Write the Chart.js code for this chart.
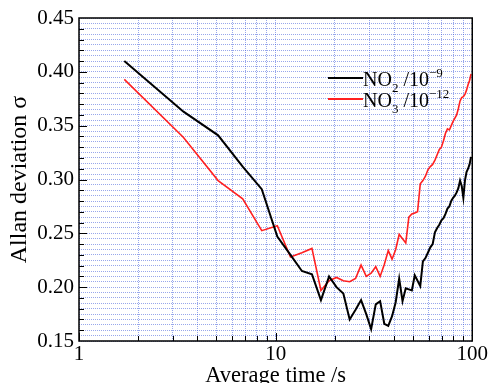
<!DOCTYPE html>
<html>
<head>
<meta charset="utf-8">
<script src="https://cdn.jsdelivr.net/npm/chart.js@4/dist/chart.umd.min.js"></script>
<style>
  html, body { margin: 0; padding: 0; background: #fff; overflow: hidden; }
</style>
</head>
<body>
<canvas id="myChart" width="489" height="383"></canvas>
<script>
// averaging time (s)
const avgTime = [1.7, 3.4, 5.1, 6.8, 8.5, 10.2, 11.9, 13.6, 15.3, 17, 18.7, 20.4, 22.1, 23.8, 25.5,
  27.2, 28.9, 30.6, 32.3, 34, 35.7, 37.4, 39.1, 40.8, 42.5, 44.2, 45.9, 47.6, 49.3, 51,
  52.7, 54.4, 56.1, 57.8, 59.5, 61.2, 62.9, 64.6, 66.3, 68, 69.7, 71.4, 73.1, 74.8, 76.5,
  78.2, 79.9, 81.6, 83.3, 85, 86.7, 88.4, 90.1, 91.8, 93.5, 95.2, 96.9, 98.6];

// NO2 / 1e-9
const no2 = [0.410, 0.363, 0.341, 0.312, 0.291, 0.247, 0.230, 0.215, 0.212, 0.188, 0.210, 0.200, 0.194, 0.170, 0.179,
  0.188, 0.175, 0.161, 0.184, 0.187, 0.166, 0.164, 0.173, 0.186, 0.208, 0.187, 0.199, 0.198, 0.197, 0.211,
  0.206, 0.201, 0.224, 0.227, 0.232, 0.237, 0.240, 0.251, 0.255, 0.258, 0.262, 0.264, 0.268, 0.273, 0.275,
  0.280, 0.283, 0.285, 0.288, 0.292, 0.299, 0.294, 0.283, 0.299, 0.307, 0.310, 0.314, 0.321];

// NO3 / 1e-12
const no3 = [0.393, 0.339, 0.299, 0.282, 0.2525, 0.257, 0.228, 0.232, 0.236, 0.197, 0.206, 0.209, 0.206, 0.205, 0.208,
  0.2205, 0.210, 0.213, 0.219, 0.210, 0.221, 0.234, 0.226, 0.235, 0.249, 0.245, 0.241, 0.265, 0.268, 0.269,
  0.270, 0.296, 0.299, 0.303, 0.309, 0.312, 0.314, 0.318, 0.323, 0.328, 0.330, 0.336, 0.343, 0.347, 0.346,
  0.350, 0.354, 0.357, 0.360, 0.366, 0.373, 0.376, 0.377, 0.379, 0.383, 0.388, 0.392, 0.398];

const xTicks = [1, 2, 3, 4, 5, 6, 7, 8, 9, 10, 20, 30, 40, 50, 60, 70, 80, 90, 100];
const xTickLabels = [1, 10, 100];
const yTickLabels = [0.15, 0.20, 0.25, 0.30, 0.35, 0.40, 0.45];

const gridBlue = 'rgba(50, 80, 215, 0.5)';

const isLabelled = (v, list) => list.some(t => Math.abs(t - v) < 1e-6);

// frame round the plot and inward tick marks
const frameTicks = {
  id: 'frameTicks',
  afterDatasetsDraw(chart) {
    const {ctx, chartArea: a, scales: {x, y}} = chart;
    ctx.save();
    ctx.strokeStyle = '#000';
    ctx.lineWidth = 1;
    ctx.beginPath();
    xTicks.forEach(v => {
      const px = Math.round(x.getPixelForValue(v)) + 0.5;
      const len = isLabelled(v, xTickLabels) ? 8 : 5;
      ctx.moveTo(px, a.bottom);
      ctx.lineTo(px, a.bottom - len);
    });
    for (let i = 16; i < 45; i++) {
      const py = Math.round(y.getPixelForValue(i / 100)) + 0.5;
      const len = i % 5 === 0 ? 8 : 5;
      ctx.moveTo(a.left, py);
      ctx.lineTo(a.left + len, py);
    }
    ctx.stroke();
    ctx.lineWidth = 1.5;
    ctx.strokeRect(a.left, a.top, a.right - a.left, a.bottom - a.top);
    ctx.restore();
  }
};

// legend with sub- and superscripts
const richLegend = {
  id: 'richLegend',
  afterDraw(chart) {
    const ctx = chart.ctx;
    const rows = [
      {ds: 0, y: 86, parts: [['NO', 0], ['2', 1], [' /10', 0], ['\u22129', -1]]},
      {ds: 1, y: 107, parts: [['NO', 0], ['3', 1], [' /10', 0], ['\u221212', -1]]}
    ];
    ctx.save();
    rows.forEach(row => {
      const ds = chart.data.datasets[row.ds];
      ctx.strokeStyle = ds.borderColor;
      ctx.lineWidth = 2;
      ctx.beginPath();
      ctx.moveTo(328, row.y - 8);
      ctx.lineTo(363, row.y - 8);
      ctx.stroke();
      let x = 363;
      ctx.fillStyle = '#000';
      ctx.textBaseline = 'alphabetic';
      row.parts.forEach(([t, s]) => {
        ctx.font = s === 0 ? '20px "Liberation Serif"' : '13px "Liberation Serif"';
        const dy = s === 1 ? 6 : s === -1 ? -9 : 0;
        ctx.fillText(t, x, row.y + dy);
        x += ctx.measureText(t).width;
      });
    });
    ctx.restore();
  }
};

Chart.defaults.font.family = '"Liberation Serif", serif';
Chart.defaults.color = '#000';

const ctx = document.getElementById('myChart').getContext('2d');
const chart = new Chart(ctx, {
  type: 'line',
  data: {
    datasets: [{
      label: 'NO2 /10^-9',
      data: avgTime.map((t, i) => ({x: t, y: no2[i]})),
      borderColor: '#000',
      borderWidth: 2,
      pointRadius: 0,
      tension: 0,
    }, {
      label: 'NO3 /10^-12',
      data: avgTime.map((t, i) => ({x: t, y: no3[i]})),
      borderColor: '#ff2020',
      borderWidth: 1.6,
      pointRadius: 0,
      tension: 0,
    }],
  },
  options: {
    responsive: false,
    animation: false,
    devicePixelRatio: 1,
    layout: {padding: {left: 0, right: 0, top: 18, bottom: 0}},
    plugins: {
      legend: {display: false},
      tooltip: {enabled: false},
    },
    scales: {
      x: {
        type: 'logarithmic',
        min: 1,
        max: 100,
        afterBuildTicks: (scale) => {
          scale.ticks = xTicks.map(v => ({value: v}));
        },
        afterFit: (scale) => { scale.height = 42; },
        ticks: {
          autoSkip: false,
          maxRotation: 0,
          padding: 1,
          font: {size: 21},
          callback: (v) => (isLabelled(v, xTickLabels) ? String(v) : ''),
        },
        grid: {color: gridBlue, lineWidth: 1, drawTicks: false},
        border: {display: false, dash: [1, 1]},
        title: {
          display: true,
          text: 'Average time /s',
          font: {size: 22.5},
          padding: {top: 0, bottom: -7},
        },
      },
      y: {
        type: 'linear',
        min: 0.15,
        max: 0.45,
        afterFit: (scale) => { scale.width = 79; },
        ticks: {
          stepSize: 0.005,
          maxTicksLimit: 100,
          autoSkip: false,
          padding: 5,
          font: {size: 21},
          callback: (v) => (isLabelled(v, yTickLabels) ? v.toFixed(2) : ''),
        },
        grid: {color: gridBlue, lineWidth: 1, drawTicks: false},
        border: {display: false, dash: [1, 1]},
        title: {
          display: true,
          text: 'Allan deviation \u03c3',
          font: {size: 24},
          padding: {top: 5, bottom: 0},
        },
      },
    },
  },
  plugins: [frameTicks, richLegend],
});
</script>
</body>
</html>
